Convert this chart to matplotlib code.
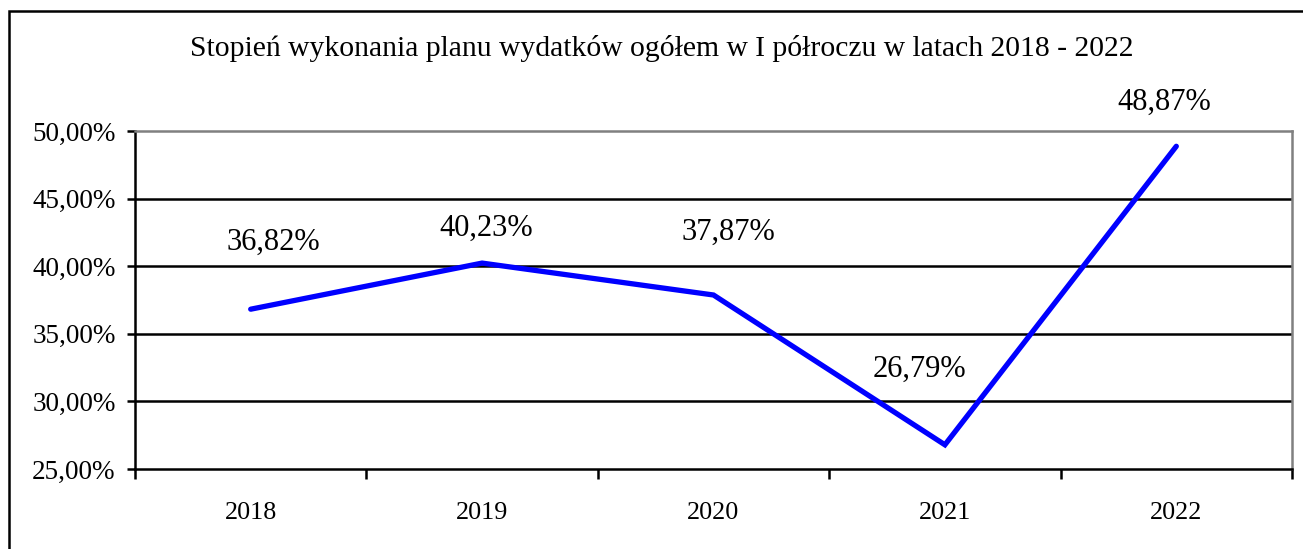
import matplotlib
matplotlib.use("Agg")
import matplotlib.pyplot as plt
from matplotlib.patches import Rectangle
from matplotlib.ticker import FixedLocator, FuncFormatter

years = ["2018", "2019", "2020", "2021", "2022"]
values = [36.82, 40.23, 37.87, 26.79, 48.87]
value_labels = ["36,82%", "40,23%", "37,87%", "26,79%", "48,87%"]
y_ticks = [25, 30, 35, 40, 45, 50]
title = "Stopień wykonania planu wydatków ogółem w I półroczu w latach 2018 - 2022"

# label offsets in points (styling)
label_offsets = [(16, 48), (3, 25), (11, 45), (-18, 54), (-9, 32)]

plt.rcParams['font.family'] = ['Liberation Serif', 'DejaVu Serif']

W, H = 1303, 549
fig = plt.figure(figsize=(W / 100, H / 100), dpi=100)
fig.patch.set_facecolor('white')

# outer frame
fig.patches.append(Rectangle((9 / W, -0.1), 1.2, 1 - 11 / H + 0.1, transform=fig.transFigure,
                             fill=False, edgecolor='black', linewidth=1.8, zorder=0))

ax = fig.add_axes([135 / W, 1 - 469 / H, (1292 - 135) / W, (469 - 131) / H])
x = list(range(len(years)))
ax.plot(x, values, color='#0000FF', linewidth=3.8, solid_capstyle='round',
        solid_joinstyle='miter', zorder=3)

ax.set_xlim(-0.5, len(years) - 0.5)
ax.set_ylim(25, 50)

ax.set_yticks(y_ticks)
ax.yaxis.set_major_formatter(FuncFormatter(lambda v, p: f"{v:.2f}".replace('.', ',') + "%"))
ax.tick_params(axis='y', length=6, width=1.8, pad=8, labelsize=19.5, direction='out')

ax.set_xticks(x)
ax.set_xticklabels(years)
ax.tick_params(axis='x', which='major', length=0, pad=24, labelsize=18.8)
ax.xaxis.set_minor_locator(FixedLocator([i - 0.5 for i in range(len(years) + 1)]))
ax.tick_params(axis='x', which='minor', length=7, width=1.8, direction='out')

for yv in y_ticks[1:-1]:
    ax.axhline(yv, color='black', linewidth=1.8, zorder=1)

for s in ['left', 'bottom']:
    ax.spines[s].set_color('black')
    ax.spines[s].set_linewidth(1.8)
for s in ['top', 'right']:
    ax.spines[s].set_color('#808080')
    ax.spines[s].set_linewidth(1.8)

for xi, v, lab, off in zip(x, values, value_labels, label_offsets):
    ax.annotate(lab, (xi, v), xytext=off, textcoords='offset points',
                ha='center', va='center', fontsize=22)

fig.text(662 / W, 1 - 48 / H, title, ha='center', va='center', fontsize=21.3)

fig.savefig("out.png", dpi=100, facecolor='white')
